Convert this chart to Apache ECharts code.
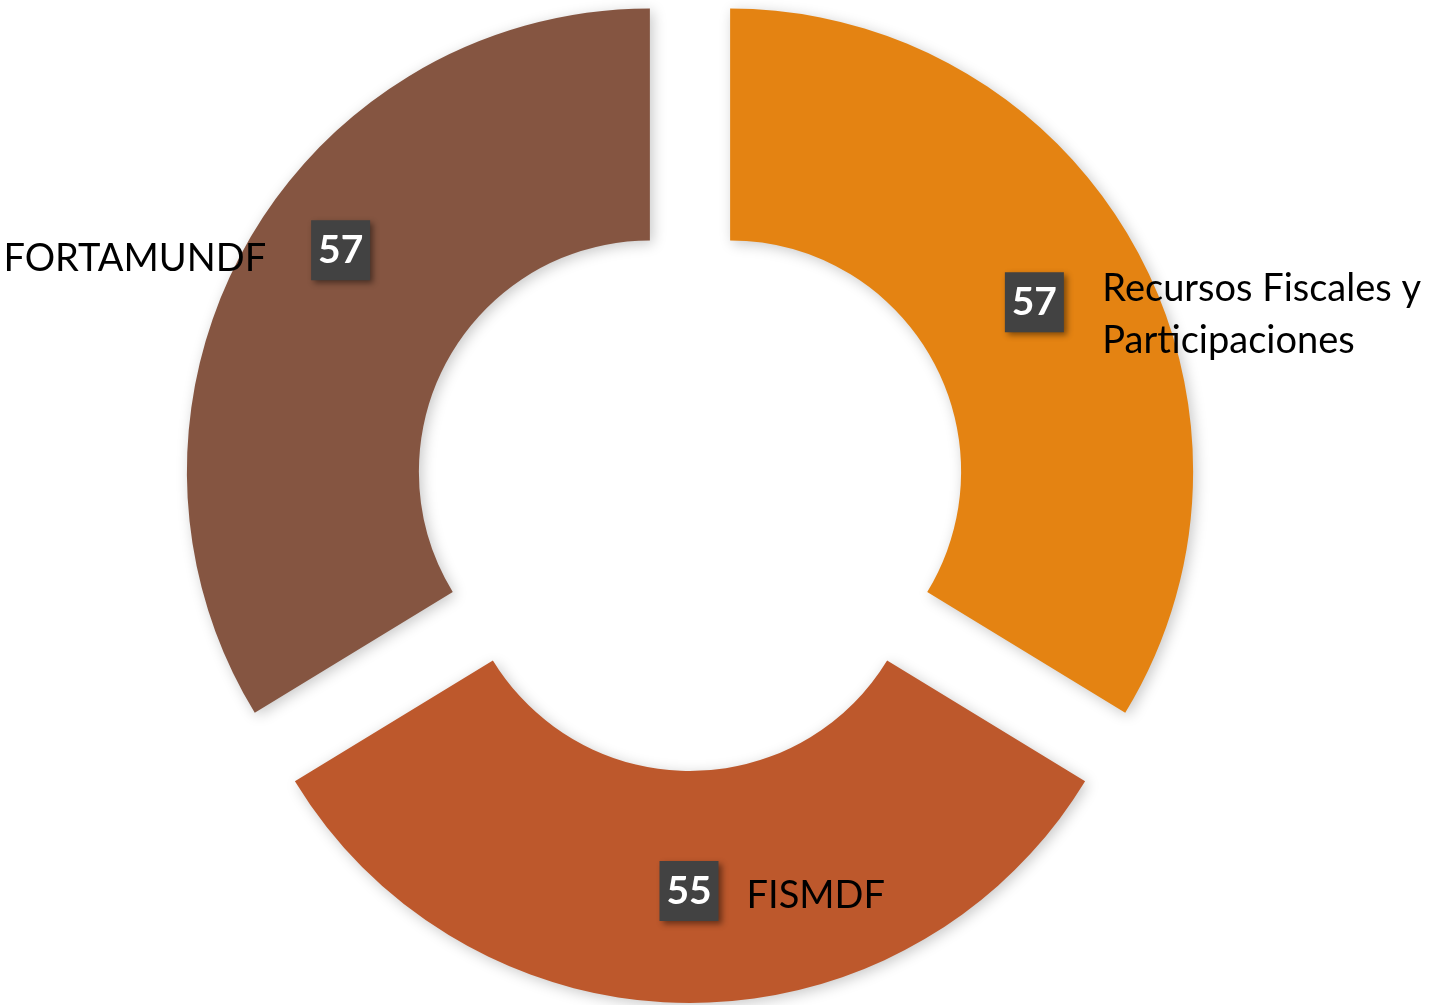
<!DOCTYPE html>
<html>
<head>
<meta charset="UTF-8"/>
<title>Fondos</title>
<script src="https://cdn.jsdelivr.net/npm/echarts@6/dist/echarts.min.js"></script>
<style>
  html, body { margin: 0; padding: 0; background: #fff; }
  #chart { width: 1434px; height: 1005px; }
</style>
</head>
<body>
<div id="chart"></div>
<script>
// datos del grafico
var categorias = ['Recursos Fiscales y Participaciones', 'FISMDF', 'FORTAMUNDF'];
var etiquetas = ['Recursos Fiscales y\nParticipaciones', 'FISMDF', 'FORTAMUNDF'];
var valores = [57, 55, 57];
var colores = ['#E48312', '#BD582C', '#855541'];

// desplazamiento de cada etiqueta respecto al centro del sector
var offsetValor = [[-1, 2], [-1, 1], [-4, -50]];
var offsetNombre = [[232, 14], [124, 6], [-211, -42]];
var anchoNombre = [330, 135, 265];
var alineaNombre = ['left', 'left', 'right'];

var fuente = 'Lato, "Noto Sans", sans-serif';

var myChart = echarts.init(document.getElementById('chart'));

var datosValor = [], datosNombre = [];
for (var i = 0; i < categorias.length; i++) {
  datosValor.push({
    name: categorias[i],
    value: valores[i],
    selected: true,
    itemStyle: { color: colores[i] }
  });
  datosNombre.push({
    name: categorias[i],
    value: valores[i],
    selected: true,
    label: {
      formatter: '{n|' + etiquetas[i].split('\n').join('}\n{n|') + '}',
      rich: { n: { color: '#000', fontFamily: fuente, fontSize: 38, lineHeight: 52, width: anchoNombre[i], align: alineaNombre[i] } }
    }
  });
}

var comun = {
  type: 'pie',
  center: [690, 494],
  radius: [231, 463],
  startAngle: 90,
  clockwise: true,
  selectedMode: 'multiple',
  selectedOffset: 46,
  avoidLabelOverlap: false,
  animation: false,
  emphasis: { disabled: true },
  labelLine: { show: false }
};

var option = {
  backgroundColor: '#ffffff',
  series: [
    Object.assign({}, comun, {
      name: 'valores',
      itemStyle: {
        shadowBlur: 14,
        shadowColor: 'rgba(0,0,0,0.22)',
        shadowOffsetX: 3,
        shadowOffsetY: 3
      },
      label: {
        show: true,
        position: 'inside',
        formatter: '{v|{c}}',
        rich: {
          v: {
            color: '#ffffff',
            fontFamily: fuente,
            fontWeight: 'bold',
            fontSize: 39,
            backgroundColor: '#424242',
            width: 59,
            height: 60,
            align: 'center',
            verticalAlign: 'middle',
            shadowBlur: 6,
            shadowColor: 'rgba(0,0,0,0.45)',
            shadowOffsetX: 3,
            shadowOffsetY: 3
          }
        }
      },
      labelLayout: function (p) {
        return { dx: offsetValor[p.dataIndex][0], dy: offsetValor[p.dataIndex][1] };
      },
      data: datosValor
    }),
    Object.assign({}, comun, {
      name: 'nombres',
      silent: true,
      itemStyle: { color: 'rgba(0,0,0,0)' },
      label: { show: true, position: 'inside' },
      labelLayout: function (p) {
        return { dx: offsetNombre[p.dataIndex][0], dy: offsetNombre[p.dataIndex][1] };
      },
      data: datosNombre
    })
  ]
};

myChart.setOption(option, true);
</script>
</body>
</html>
